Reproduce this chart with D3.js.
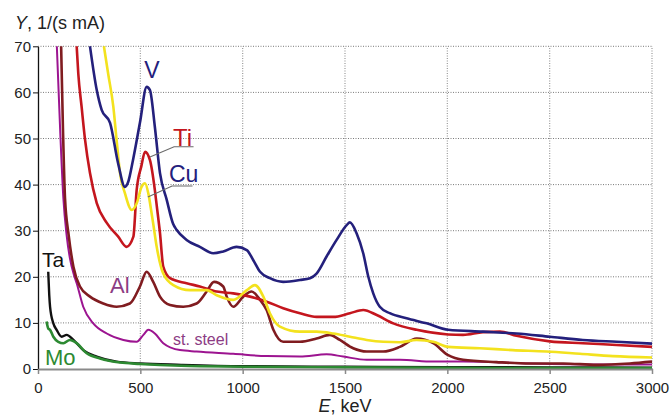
<!DOCTYPE html>
<html>
<head>
<meta charset="utf-8">
<script src="https://cdn.jsdelivr.net/npm/d3@7/dist/d3.min.js"></script>
<style>
  body { margin: 0; background: #fff; }
  text { font-family: "Liberation Sans", Arial, sans-serif; }
</style>
</head>
<body>
<svg id="chart"></svg>
<script>
// spectra, [E keV, Y]
var vData = [[254,70],[287,60.5],[311,56.2],[352,53.4],[391,44.7],[425,39.5],[440,40.5],[464,45.3],[498,53.4],[531,61.2],[547,60.5],[571,52.5],[596,42.5],[629,36.7],[660,31.5],[677,30.2],[726,28],[791,26.5],[856,25.1],[905,25.5],[970,26.5],[1020,25.8],[1052,23.6],[1085,21.1],[1133,19.7],[1198,18.9],[1280,19.3],[1329,19.7],[1361,20.7],[1410,24.4],[1459,28],[1508,31.2],[1524,31.8],[1557,29.4],[1589,25.1],[1614,20],[1638,16.4],[1670,13.5],[1719,12.1],[1801,11],[1899,9.9],[2004,8.5],[2174,8.1],[2338,7.7],[2501,7],[2662,6.3],[2827,5.9],[3000,5.5]];
var tiData = [[189,70],[197,64],[213,56.9],[230,49.7],[254,42.5],[287,36],[336,31.7],[392,28.7],[433,26.5],[466,28.7],[482,38.8],[505,44],[523,47.1],[547,45.3],[571,38.8],[580,35.5],[596,29.5],[612,22.2],[645,19.7],[726,18.6],[791,17.9],[873,16.8],[954,16.4],[1036,15.7],[1117,14.6],[1198,13.2],[1280,12.1],[1361,11.3],[1443,11.3],[1524,12.1],[1589,12.8],[1655,11.7],[1736,9.9],[1850,8.5],[2004,7.5],[2077,7.4],[2174,8],[2257,8.1],[2338,7.2],[2501,6],[2662,5.6],[2827,5.2],[3000,4.8]];
var cuData = [[322,70],[343,64],[368,56.9],[384,49.7],[401,42.4],[425,38.1],[458,34.5],[482,35.9],[506,39.5],[523,40.3],[539,38.1],[555,33.8],[563,31.5],[580,26.5],[612,20.7],[661,18.2],[743,17.1],[824,17.1],[873,16],[954,15],[1020,17.1],[1060,18.2],[1101,15.7],[1133,12.1],[1182,9.2],[1280,8.1],[1361,8.1],[1443,7.7],[1524,7],[1606,6.3],[1687,5.9],[1768,5.8],[1850,6.3],[1931,5.9],[2004,4.8],[2159,4.5],[2320,4.1],[2485,3.8],[2648,3.3],[2809,2.8],[3000,2.5]];
var alData = [[113,70],[122,52],[132,37],[150,29],[173,22.2],[205,17.9],[254,15.7],[319,14.2],[384,13.5],[449,14.2],[498,17.9],[531,21.1],[563,18.9],[596,15.7],[645,13.9],[710,13.5],[775,14.2],[824,16.8],[860,18.9],[905,17.9],[922,15.7],[954,13.5],[1003,15.7],[1044,16.8],[1085,15],[1117,12.8],[1150,8.5],[1198,5.9],[1280,5.9],[1361,6.6],[1426,7.4],[1475,6.3],[1540,4.5],[1606,3.8],[1687,3.8],[1768,4.8],[1850,6.6],[1931,5.6],[2004,3],[2077,2],[2240,1.5],[2403,1.2],[2566,1.2],[2729,0.9],[2892,1.2],[3000,1.6]];
var steelData = [[92,70],[110,50],[124,37],[140,29],[156,24],[175,20.5],[189,18.6],[221,13.5],[270,9.9],[336,7.7],[417,6.3],[482,5.9],[515,7.4],[539,8.5],[571,7.7],[612,5.6],[694,4.1],[775,3.8],[954,3.3],[1117,2.8],[1280,2.7],[1410,3.2],[1491,2.7],[1606,2],[1768,2],[1931,1.6],[2077,1.6],[2403,1.2],[2729,1],[3000,1]];
var taData = [[50,21.1],[55,16],[59,13.5],[75,9.9],[91,8.5],[116,7],[140,7.4],[173,6.3],[221,4.1],[287,2.7],[384,1.6],[498,1.2],[700,0.9],[1000,0.6],[1500,0.5],[2000,0.4],[2500,0.35],[3000,0.3]];
var moData = [[42,10.3],[50,8.8],[59,8.5],[75,7],[99,5.9],[124,5.6],[156,6.3],[189,5.6],[238,3.4],[303,2.3],[401,1.4],[498,1.1],[700,0.7],[1000,0.5],[1500,0.35],[2000,0.25],[2500,0.2],[3000,0.2]];

var xTicks = [0, 500, 1000, 1500, 2000, 2500, 3000];
var yTicks = [0, 10, 20, 30, 40, 50, 60, 70];

// drawing order: bottom first
var series = [
  { name: "Ta", data: taData, color: "#111111", w: 2.4 },
  { name: "Mo", data: moData, color: "#2d8a32", w: 2.6 },
  { name: "st. steel", data: steelData, color: "#9c1490", w: 2 },
  { name: "Al", data: alData, color: "#801c20", w: 2.6 },
  { name: "Ti", data: tiData, color: "#c4161e", w: 2.6 },
  { name: "Cu", data: cuData, color: "#f3e21e", w: 2.6 },
  { name: "V", data: vData, color: "#24207c", w: 2.6 }
];

// labels placed in data units (E, Y)
var labels = [
  { text: "V", e: 557, y: 63.1, color: "#24207c", size: 23, anchor: "middle" },
  { text: "Ti", e: 660, y: 48.4, color: "#c4161e", size: 24, anchor: "start" },
  { text: "Cu", e: 640, y: 40.6, color: "#24207c", size: 23, anchor: "start" },
  { text: "Al", e: 352, y: 16.5, color: "#8c3c84", size: 22, anchor: "start" },
  { text: "st. steel", e: 660, y: 5.1, color: "#8c3c84", size: 16, anchor: "start" },
  { text: "Ta", e: 20, y: 22.1, color: "#111111", size: 21, anchor: "start" },
  { text: "Mo", e: 34, y: 0.9, color: "#2d8a32", size: 22, anchor: "start" }
];
var leaders = [
  [[547, 46.0], [665, 48.2], [760, 48.2]],
  [[537, 37.3], [655, 39.7], [755, 39.7]]
];

var W = 672, H = 416;
var x = d3.scaleLinear().domain([0, 3000]).range([38, 652]);
var y = d3.scaleLinear().domain([0, 70]).range([369, 46.3]);

var svg = d3.select("#chart").attr("width", W).attr("height", H);

svg.append("defs").append("clipPath").attr("id", "plot")
  .append("rect").attr("x", 38).attr("y", 46).attr("width", 615).attr("height", 323);

// grid
svg.append("g").selectAll("line")
  .data(yTicks.filter(d => d > 0)).enter().append("line")
  .attr("x1", x(0)).attr("x2", x(3000))
  .attr("y1", d => y(d)).attr("y2", d => y(d))
  .style("stroke", "#7a7a7a").style("stroke-width", 1).style("stroke-dasharray", "1,1.5");
svg.append("g").selectAll("line")
  .data(xTicks.filter(d => d > 0)).enter().append("line")
  .attr("x1", d => x(d)).attr("x2", d => x(d))
  .attr("y1", y(0)).attr("y2", y(70))
  .style("stroke", "#9a9a9a").style("stroke-width", 1.2).style("stroke-dasharray", "1,1.5");

// curves
var line = d3.line()
  .x(d => x(d[0]))
  .y(d => y(d[1]))
  .curve(d3.curveMonotoneX);

svg.append("g").attr("clip-path", "url(#plot)")
  .selectAll("path")
  .data(series).enter().append("path")
  .attr("d", d => line(d.data))
  .style("fill", "none")
  .style("stroke", d => d.color)
  .style("stroke-width", d => d.w)
  .style("stroke-linejoin", "round");

// axes
var yAxis = svg.append("g")
  .attr("transform", "translate(" + x(0) + ",0)")
  .call(d3.axisLeft(y).tickValues(yTicks).tickSize(5).tickSizeOuter(0).tickPadding(2));
yAxis.select(".domain").style("stroke", "#111").style("stroke-width", 1.3);
yAxis.selectAll(".tick line").style("stroke", "#111");
yAxis.selectAll("text").style("font-size", "15px").style("fill", "#222")
  .style("font-family", "'Liberation Sans', Arial, sans-serif");

var xAxis = svg.append("g")
  .attr("transform", "translate(0," + y(0) + ")")
  .call(d3.axisBottom(x).tickValues(xTicks).tickFormat(d3.format("d"))
    .tickSize(5).tickSizeOuter(0).tickPadding(8));
xAxis.select(".domain").style("stroke", "#8a8a8a").style("stroke-width", 2.2);
xAxis.selectAll(".tick line").style("stroke", "#8a8a8a").style("stroke-width", 1.5);
xAxis.selectAll("text").style("font-size", "15px").style("fill", "#222")
  .style("font-family", "'Liberation Sans', Arial, sans-serif");

// axis titles
var yt = svg.append("text").attr("x", 15).attr("y", 29)
  .style("font-size", "18px").style("fill", "#222");
yt.append("tspan").style("font-style", "italic").text("Y");
yt.append("tspan").text(", 1/(s mA)");

var xt = svg.append("text").attr("x", 345).attr("y", 412)
  .style("text-anchor", "middle").style("font-size", "18px").style("fill", "#222");
xt.append("tspan").style("font-style", "italic").text("E");
xt.append("tspan").text(", keV");

// leader lines and labels
svg.selectAll("path.leader")
  .data(leaders).enter().append("path")
  .attr("class", "leader")
  .attr("d", d3.line().x(d => x(d[0])).y(d => y(d[1])))
  .style("fill", "none").style("stroke", "#6a6a6a").style("stroke-width", 1.1);

svg.selectAll("text.lab")
  .data(labels).enter().append("text")
  .attr("class", "lab")
  .attr("x", d => x(d.e)).attr("y", d => y(d.y))
  .style("text-anchor", d => d.anchor)
  .style("font-size", d => d.size + "px")
  .style("fill", d => d.color)
  .text(d => d.text);
</script>
</body>
</html>
